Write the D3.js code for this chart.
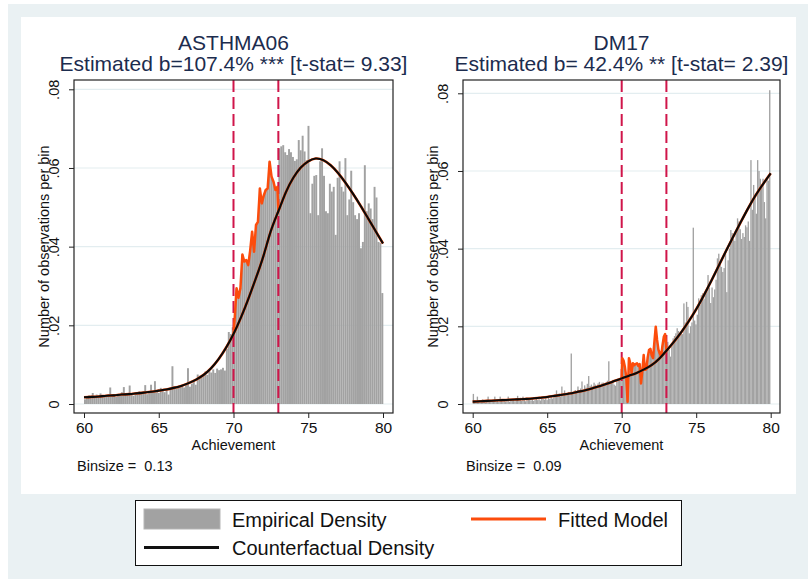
<!DOCTYPE html>
<html lang="en">
<head>
<meta charset="UTF-8">
<script src="https://cdn.jsdelivr.net/npm/d3@7"></script>
<title>ASTHMA06 / DM17</title>
<style>
  body { margin: 0; background: #fff; }
  svg { display: block; font-family: "Liberation Sans", Arial, sans-serif; }
</style>
</head>
<body>
<script>
// density per bin (bins start at 60)
const binsAsthma = [
  .0012,.0018,.0022,.0016,.0028,.0020,.0024,.0018,.0027,.0021,
  .0019,.0023,.0025,.0042,.0020,.0024,.0018,.0026,.0022,.0030,
  .0043,.0026,.0024,.0047,.0025,.0021,.0030,.0024,.0033,.0027,
  .0029,.0048,.0025,.0032,.0049,.0030,.0058,.0035,.0028,.0041,
  .0033,.0030,.0036,.0024,.0040,.0096,.0045,.0038,.0046,.0042,
  .0048,.0042,.0050,.0091,.0044,.0052,.0060,.0049,.0075,.0072,
  .0068,.0075,.0083,.0074,.0086,.0080,.0088,.0079,.0090,.0086,
  .0088,.0092,.0085,.0140,.0183,.0178,.0195,
  .0215,.0294,.0270,.0295,.0380,.0362,.0366,.0353,.0390,.0438,
  .0387,.0455,.0463,.0548,.0510,.0530,.0544,.0548,.0616,.0578,.0565,.0544,.0552,
  .0650,.0655,.0658,.0640,.0633,.0648,.0640,.0628,.0618,.0622,
  .0671,.0645,.0682,.0642,.0620,.0707,.0485,.0560,.0580,.0582,
  .0480,.0617,.0650,.0580,.0490,.0485,.0560,.0540,.0552,.0430,
  .0575,.0617,.0552,.0540,.0625,.0480,.0520,.0593,.0513,.0480,
  .0470,.0485,.0396,.0412,.0607,.0490,.0510,.0497,.0470,.0552,
  .0525,.0412,.0410,.0282
];
const binsDm = [
  .0026,.0008,.0005,.0019,.0006,.0009,.0005,.0012,.0007,.0004,
  .0006,.0019,.0008,.0005,.0010,.0007,.0019,.0006,.0009,.0005,
  .0019,.0008,.0006,.0011,.0007,.0009,.0019,.0006,.0010,.0008,
  .0012,.0007,.0009,.0021,.0010,.0016,.0008,.0019,.0011,.0007,
  .0010,.0012,.0016,.0009,.0013,.0008,.0011,.0014,.0010,.0012,
  .0009,.0016,.0013,.0011,.0015,.0010,.0017,.0013,.0019,.0014,
  .0018,.0023,.0035,.0020,.0027,.0019,.0045,.0024,.0035,.0022,
  .0026,.0031,.0023,.0130,.0030,.0027,.0036,.0029,.0045,.0033,
  .0040,.0058,.0037,.0048,.0042,.0052,.0072,.0046,.0050,.0045,
  .0055,.0050,.0043,.0053,.0057,.0048,.0055,.0055,.0051,.0056,
  .0060,.0110,.0058,.0055,.0062,.0050,.0047,.0058,.0060,.0063,.0068,
  .0118,.0112,.0095,.0070,.0006,.0118,.0105,.0080,.0105,.0100,
  .0103,.0105,.0098,.0103,.0053,.0085,.0126,.0088,.0090,.0120,
  .0139,.0142,.0125,.0118,.0160,.0199,.0165,.0140,.0130,.0122,
  .0150,.0173,.0180,.0150,
  .0160,.0140,.0122,.0150,.0169,.0175,.0182,.0195,.0188,.0180,
  .0185,.0180,.0259,.0210,.0263,.0250,.0182,.0200,.0210,.0454,
  .0215,.0205,.0230,.0272,.0255,.0280,.0285,.0270,.0283,.0290,
  .0332,.0300,.0260,.0300,.0275,.0295,.0320,.0375,.0387,.0360,
  .0353,.0340,.0350,.0387,.0288,.0370,.0400,.0448,.0440,.0425,
  .0420,.0440,.0478,.0470,.0450,.0425,.0440,.0430,.0460,.0455,
  .0470,.0420,.0628,.0500,.0564,.0530,.0490,.0628,.0600,.0580,
  .0560,.0580,.0520,.0478,.0580,.0575,.0808
];

// counterfactual density, sampled every half point
const cfGrid = [60,60.5,61,61.5,62,62.5,63,63.5,64,64.5,65,65.5,66,66.5,67,67.5,68,68.5,69,69.5,
  70,70.5,71,71.5,72,72.5,73,73.5,74,74.5,75,75.5,76,76.5,77,77.5,78,78.5,79,79.5,80];
const cfAsthma = [.0017,.0018,.0019,.0021,.0022,.0024,.0025,.0027,.0029,.0031,
  .0034,.0037,.0041,.0046,.0053,.0062,.0074,.0091,.0114,.0143,
  .0178,.0220,.0268,.0320,.0376,.0440,.0490,.0538,.0575,.0601,
  .0617,.0624,.0620,.0607,.0587,.0562,.0534,.0504,.0472,.0440,.0408];
const cfDm = [.0006,.0007,.0008,.0009,.0010,.0011,.0012,.0013,.0014,.0016,
  .0018,.0021,.0024,.0027,.0031,.0035,.0040,.0046,.0052,.0059,
  .0066,.0073,.0080,.0089,.0100,.0116,.0137,.0160,.0185,.0213,
  .0244,.0279,.0316,.0355,.0394,.0432,.0469,.0505,.0538,.0567,.0594];

const xTicks = [60, 65, 70, 75, 80];
const yTicks = [0, .02, .04, .06, .08];
const yTickLabels = ["0", ".02", ".04", ".06", ".08"];
const cutoffs = [70, 73];

const panels = [
  { title: "ASTHMA06", sub: "Estimated b=107.4% *** [t-stat= 9.33]", binsize: 0.13,
    bins: binsAsthma, cf: cfAsthma, frame: [74, 80, 393, 413], xr: [84, 383], yr: [404, 89.3] },
  { title: "DM17", sub: "Estimated b= 42.4% ** [t-stat= 2.39]", binsize: 0.09,
    bins: binsDm, cf: cfDm, frame: [463, 80, 780, 413], xr: [472.7, 770.7], yr: [404, 93.3] }
];

const navy = "#1c2c4e", orange = "#fc4c0c", crimson = "#d0154a", barFill = "#a2a2a2";

const svg = d3.select("body").append("svg").attr("width", 808).attr("height", 581);
svg.append("rect").attr("x", 8).attr("y", 4).attr("width", 800).attr("height", 575).attr("fill", "#eaf1f3");
svg.append("rect").attr("x", 21).attr("y", 17).attr("width", 775).attr("height", 477).attr("fill", "#fff");

panels.forEach(function (p) {
  const [fx0, fy0, fx1, fy1] = p.frame;
  const cx = (fx0 + fx1) / 2;
  const x = d3.scaleLinear().domain([60, 80]).range(p.xr);
  const y = d3.scaleLinear().domain([0, .08]).range(p.yr);
  const g = svg.append("g");

  // titles
  g.append("text").attr("x", cx).attr("y", 50).attr("text-anchor", "middle")
    .attr("font-size", 21).attr("fill", navy).text(p.title);
  g.append("text").attr("x", cx).attr("y", 71).attr("text-anchor", "middle")
    .attr("font-size", 21).attr("fill", navy).text(p.sub);

  // grid lines behind the bars
  g.selectAll(".grid").data(yTicks).enter().append("line")
    .attr("x1", fx0).attr("x2", fx1)
    .attr("y1", d => y(d)).attr("y2", d => y(d))
    .attr("stroke", "#e3edf0").attr("stroke-width", 1.2);

  // histogram
  g.selectAll(".bar").data(p.bins).enter().append("rect")
    .attr("x", (d, i) => x(60 + i * p.binsize))
    .attr("width", (d, i) => x(60 + (i + 1) * p.binsize) - x(60 + i * p.binsize))
    .attr("y", d => y(d))
    .attr("height", d => y(0) - y(d))
    .attr("fill", barFill);

  // cutoff lines
  g.selectAll(".cut").data(cutoffs).enter().append("line")
    .attr("x1", d => x(d)).attr("x2", d => x(d))
    .attr("y1", fy0).attr("y2", fy1)
    .attr("stroke", crimson).attr("stroke-width", 2)
    .attr("stroke-dasharray", "12,5");

  // fitted model: counterfactual outside the window, bin heights inside
  const cfPts = cfGrid.map((v, i) => [v, p.cf[i]]);
  const cfAt = v => p.cf[cfGrid.indexOf(v)];
  const inside = p.bins.map((d, i) => [60 + (i + 0.5) * p.binsize, d])
    .filter(d => d[0] >= cutoffs[0] && d[0] <= cutoffs[1]);
  const windowPts = [[cutoffs[0], cfAt(cutoffs[0])]].concat(inside, [[cutoffs[1], cfAt(cutoffs[1])]]);

  const smooth = d3.line().x(d => x(d[0])).y(d => y(d[1])).curve(d3.curveNatural);
  const straight = d3.line().x(d => x(d[0])).y(d => y(d[1]));

  g.append("path").attr("d", smooth(cfPts)).attr("fill", "none")
    .attr("stroke", orange).attr("stroke-width", 2.6);
  g.append("path").attr("d", straight(windowPts)).attr("fill", "none")
    .attr("stroke", orange).attr("stroke-width", 2.5).attr("stroke-linejoin", "round");
  g.append("path").attr("d", smooth(cfPts)).attr("fill", "none")
    .attr("stroke", "#0a0a0a").attr("stroke-width", 2.1);

  // frame
  g.append("rect").attr("x", fx0).attr("y", fy0)
    .attr("width", fx1 - fx0).attr("height", fy1 - fy0)
    .attr("fill", "none").attr("stroke", "#222").attr("stroke-width", 1.2);

  // x axis
  const xa = g.append("g").attr("transform", `translate(0,${fy1})`)
    .call(d3.axisBottom(x).tickValues(xTicks).tickSize(5).tickFormat(d3.format("d")));
  xa.select(".domain").remove();
  xa.selectAll("line").attr("stroke", "#222");
  xa.selectAll("text").attr("y", 20).attr("dy", 0).attr("font-size", 15.5)
    .attr("font-family", "Liberation Sans, Arial, sans-serif").attr("fill", "#111");

  // y axis
  const ya = g.append("g").attr("transform", `translate(${fx0},0)`)
    .call(d3.axisLeft(y).tickValues(yTicks).tickSize(5).tickFormat((d, i) => yTickLabels[i]));
  ya.select(".domain").remove();
  ya.selectAll("line").attr("stroke", "#222");
  ya.selectAll("text").attr("transform", "rotate(-90)")
    .attr("x", 0).attr("y", -15).attr("dy", 0).attr("text-anchor", "middle")
    .attr("font-size", 14.5).attr("font-family", "Liberation Sans, Arial, sans-serif").attr("fill", "#111");

  // axis titles and note
  g.append("text").attr("transform", `translate(${fx0 - 25.5},${(fy0 + fy1) / 2}) rotate(-90)`)
    .attr("text-anchor", "middle").attr("font-size", 14.5).attr("fill", "#111")
    .text("Number of observations per bin");
  g.append("text").attr("x", cx).attr("y", 450).attr("text-anchor", "middle")
    .attr("font-size", 14.5).attr("fill", "#111").text("Achievement");
  g.append("text").attr("x", fx0 + 3).attr("y", 471).attr("font-size", 14.5)
    .attr("fill", "#111").style("white-space", "pre").text("Binsize =  " + p.binsize.toFixed(2));
});

// legend
const lg = svg.append("g");
lg.append("rect").attr("x", 135.5).attr("y", 500.5).attr("width", 546).attr("height", 65)
  .attr("fill", "#fff").attr("stroke", "#111").attr("stroke-width", 1);
lg.append("rect").attr("x", 144).attr("y", 509).attr("width", 76).attr("height", 20)
  .attr("fill", barFill).attr("stroke", "#b5b5b5");
lg.append("text").attr("x", 232).attr("y", 527).attr("font-size", 20).attr("fill", "#111").text("Empirical Density");
lg.append("line").attr("x1", 144).attr("x2", 219).attr("y1", 547.5).attr("y2", 547.5)
  .attr("stroke", "#111").attr("stroke-width", 3);
lg.append("text").attr("x", 232).attr("y", 555).attr("font-size", 20).attr("fill", "#111").text("Counterfactual Density");
lg.append("line").attr("x1", 471).attr("x2", 546).attr("y1", 519).attr("y2", 519)
  .attr("stroke", orange).attr("stroke-width", 3);
lg.append("text").attr("x", 558).attr("y", 527).attr("font-size", 20).attr("fill", "#111").text("Fitted Model");
</script>
</body>
</html>
